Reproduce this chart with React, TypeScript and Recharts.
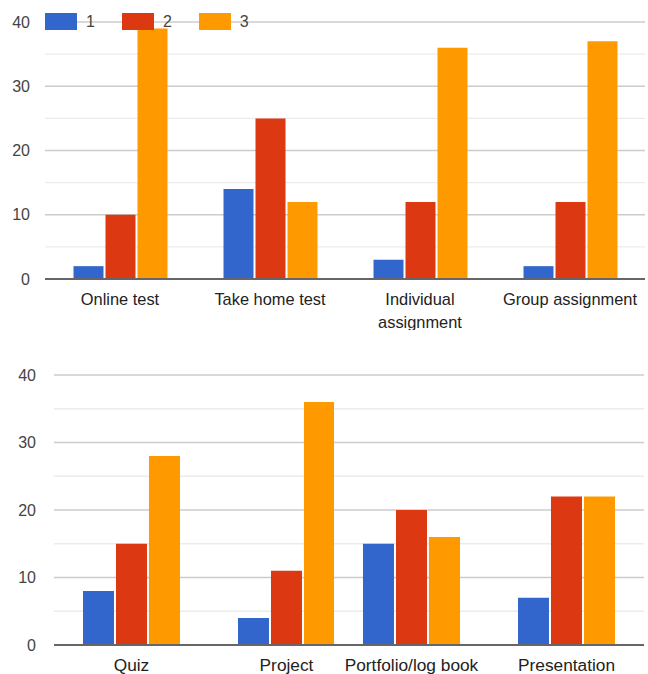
import { BarChart, Bar, XAxis, YAxis, CartesianGrid, Legend, Text } from "recharts";

const topCategories = ["Online test", "Take home test", "Individual assignment", "Group assignment"];
const topSeries1 = [2, 14, 3, 2];
const topSeries2 = [10, 25, 12, 12];
const topSeries3 = [39, 12, 36, 37];

const bottomCategories = ["Quiz", "Project", "Portfolio/log book", "Presentation"];
const bottomSeries1 = [8, 4, 15, 7];
const bottomSeries2 = [15, 11, 20, 22];
const bottomSeries3 = [28, 36, 16, 22];

const seriesNames = ["1", "2", "3"];
const seriesColors = ["#3366cc", "#dc3912", "#ff9900"];
const gridTicks = [0, 5, 10, 15, 20, 25, 30, 35, 40];

const FONT = "'Liberation Sans', Arial, sans-serif";

const buildRows = (cats: string[], a: number[], b: number[], c: number[]) =>
  cats.map((name, i) => ({ name, s1: a[i], s2: b[i], s3: c[i] }));

const topData = buildRows(topCategories, topSeries1, topSeries2, topSeries3);
const bottomData = buildRows(bottomCategories, bottomSeries1, bottomSeries2, bottomSeries3);

const GridLine = (props: any) => {
  const major = props.index % 2 === 0;
  return (
    <line
      key={props.key}
      x1={props.x1}
      x2={props.x2}
      y1={props.y1}
      y2={props.y2}
      stroke={major ? "#cccccc" : "#ebebeb"}
      strokeWidth={1.3}
    />
  );
};

const YTick = (props: any) => {
  const v = props.payload.value;
  if (v % 10 !== 0) return <g />;
  return (
    <text x={props.x} y={props.y} dy="0.35em" textAnchor="end" fontSize={16} fill="#444" fontFamily={FONT}>
      {v}
    </text>
  );
};

const makeXTick = (size: number) => (props: any) => (
  <Text
    x={props.x}
    y={props.y + 14}
    width={148}
    textAnchor="middle"
    verticalAnchor="start"
    lineHeight={23}
    fontSize={size}
    fill="#222"
    fontFamily={FONT}
    style={{ fontSize: size, fontFamily: FONT }}
  >
    {props.payload.value}
  </Text>
);

const LegendContent = (props: any) => (
  <div style={{ display: "flex", alignItems: "center", fontFamily: FONT, fontSize: 16, color: "#444" }}>
    {(props.payload || []).map((p: any) => (
      <div key={p.value} style={{ display: "flex", alignItems: "center", marginRight: 27 }}>
        <div style={{ width: 32, height: 17, background: p.color, marginRight: 9 }} />
        <span style={{ lineHeight: "17px" }}>{p.value}</span>
      </div>
    ))}
  </div>
);

interface PanelProps {
  data: any[];
  width: number;
  height: number;
  margin: { top: number; right: number; left: number; bottom: number };
  yWidth: number;
  showY: boolean;
  yGap: number;
  xHeight: number;
  xFont: number;
  gap: string;
  legend?: boolean;
}

const Panel = ({ data, width, height, margin, yWidth, showY, yGap, xHeight, xFont, gap, legend }: PanelProps) => (
  <BarChart width={width} height={height} data={data} margin={margin} barGap={2} barCategoryGap={gap}>
    <CartesianGrid vertical={false} horizontal={GridLine} />
    <XAxis
      dataKey="name"
      height={xHeight}
      tickLine={false}
      tickSize={0}
      tickMargin={0}
      interval={0}
      axisLine={{ stroke: "#666", strokeWidth: 2 }}
      tick={makeXTick(xFont)}
    />
    {showY ? (
      <YAxis
        width={yWidth}
        domain={[0, 40]}
        ticks={gridTicks}
        axisLine={false}
        tickLine={false}
        tickSize={0}
        tickMargin={yGap}
        tick={YTick}
      />
    ) : (
      <YAxis hide domain={[0, 40]} ticks={gridTicks} />
    )}
    {legend && (
      <Legend
        verticalAlign="middle"
        align="center"
        layout="horizontal"
        wrapperStyle={{ top: 13, left: 45, width: "auto", height: "auto" }}
        content={LegendContent}
      />
    )}
    <Bar dataKey="s1" name={seriesNames[0]} fill={seriesColors[0]} isAnimationActive={false} />
    <Bar dataKey="s2" name={seriesNames[1]} fill={seriesColors[1]} isAnimationActive={false} />
    <Bar dataKey="s3" name={seriesNames[2]} fill={seriesColors[2]} isAnimationActive={false} />
  </BarChart>
);

export default function App() {
  return (
    <div
      style={{
        position: "absolute",
        left: 0,
        top: 0,
        width: 648,
        height: 674,
        overflow: "hidden",
        background: "#fff",
      }}
    >
      <div style={{ position: "absolute", left: 0, top: 0 }}>
        <Panel
          data={topData}
          width={648}
          height={330}
          margin={{ top: 22, right: 3, left: 0, bottom: 0 }}
          yWidth={45}
          showY
          yGap={15}
          xHeight={51}
          xFont={16.4}
          gap="19%"
          legend
        />
      </div>
      <div style={{ position: "absolute", left: 0, top: 340 }}>
        <Panel
          data={bottomData.slice(0, 2)}
          width={370}
          height={335}
          margin={{ top: 35, right: 6, left: 0, bottom: 0 }}
          yWidth={54}
          showY
          yGap={18}
          xHeight={30}
          xFont={17.3}
          gap="18.7%"
        />
      </div>
      <div style={{ position: "absolute", left: 334, top: 340, background: "#fff" }}>
        <Panel
          data={bottomData.slice(2)}
          width={314}
          height={335}
          margin={{ top: 35, right: 4, left: 0, bottom: 0 }}
          yWidth={0}
          showY={false}
          yGap={0}
          xHeight={30}
          xFont={17.3}
          gap="18.7%"
        />
      </div>
    </div>
  );
}
